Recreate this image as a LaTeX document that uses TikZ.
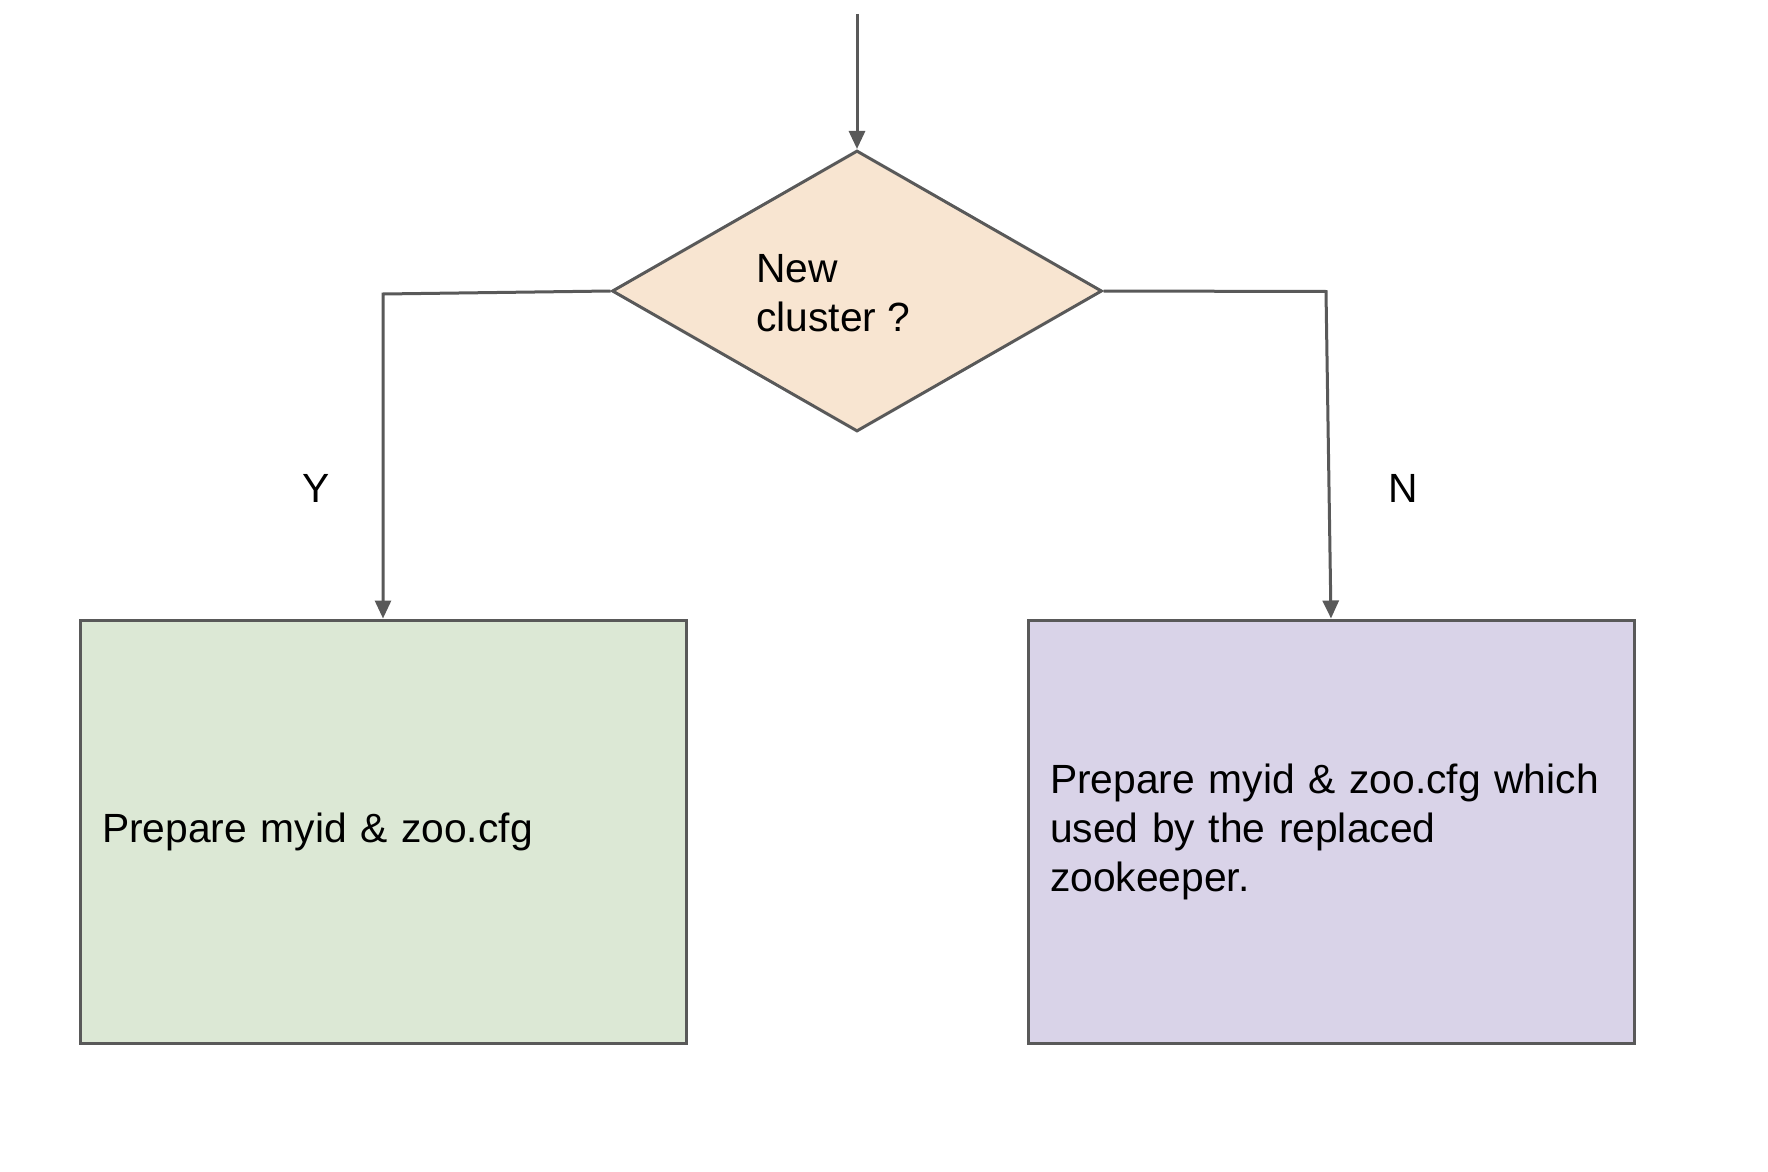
\documentclass[tikz,border=0pt]{standalone}
\usepackage{fontspec}
\setmainfont{Liberation Sans}
\usepackage{tikz}
\usetikzlibrary{arrows.meta,shapes.geometric}
\definecolor{edgegray}{HTML}{595959}
\definecolor{decfill}{HTML}{F8E5D1}
\definecolor{yesfill}{HTML}{DCE8D5}
\definecolor{nofill}{HTML}{D9D3E8}

\begin{document}
\begin{tikzpicture}[x=0.5pt,y=-0.5pt,
  flow/.style={draw=edgegray, line width=1.5pt, -{Triangle[length=9pt,width=8pt]}},
  decbox/.style={diamond, draw=edgegray, line width=1.5pt, fill=decfill, inner sep=0pt,
    minimum width=245pt, minimum height=140.5pt},
  stepbox/.style={rectangle, draw=edgegray, line width=1.5pt, inner xsep=11pt, inner ysep=0pt,
    minimum width=303pt, minimum height=211.5pt, text width=281pt, align=left},
  txt/.style={font=\fontsize{20.4}{24.5}\selectfont, text=black}]
\useasboundingbox (0,0) rectangle (1768,1172);

%% decision
\coordinate (start) at (857,14);
\node[decbox] (dec) at (857,291) {};
\node[txt, align=left, anchor=west, inner sep=0pt] (dectxt) at (756,293) {New\\cluster ?};

%% the two branches
\node[stepbox, fill=yesfill, txt] (lbox) at (383,831.5) {Prepare myid \& zoo.cfg};
\node[stepbox, fill=nofill, txt] (rbox) at (1331,831.5) {Prepare myid \& zoo.cfg which\\used by the replaced\\zookeeper.};

\coordinate (ycorner) at (383,294);
\coordinate (ncorner) at (1326,291.5);

\draw[flow] (start) -- (dec.north);
\draw[flow] (dec.west) -- (ycorner) -- (lbox.north);
\draw[flow] (dec.east) -- (ncorner) -- (rbox.north);

\node[txt] (ylab) at (316,488) {Y};
\node[txt] (nlab) at (1403,488) {N};
\end{tikzpicture}
\end{document}
